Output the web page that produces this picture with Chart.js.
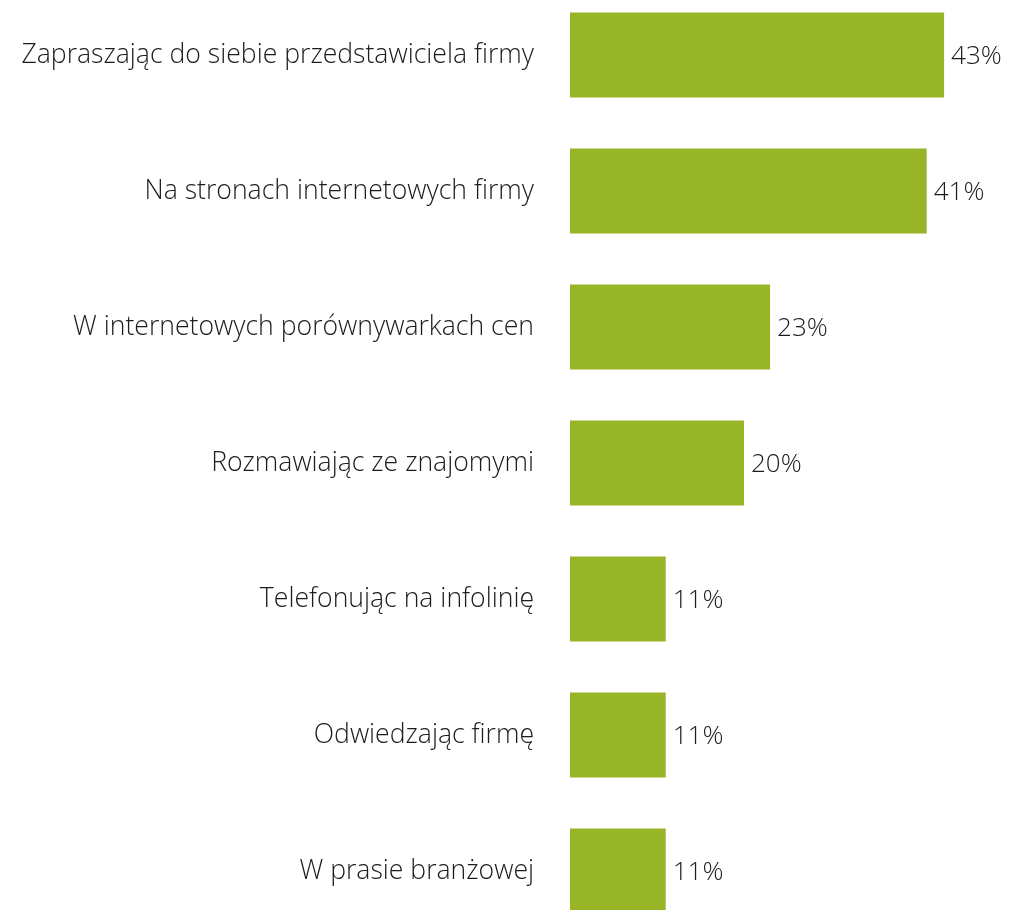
<!DOCTYPE html>
<html>
<head>
<meta charset="utf-8">
<script src="https://cdn.jsdelivr.net/npm/chart.js@4"></script>
<style>
  html, body { margin: 0; padding: 0; background: #fff; overflow: hidden; }
  #wrap { position: absolute; left: 0; top: -13px; width: 1009px; height: 952px; }
</style>
</head>
<body>
<div id="wrap"><canvas id="wykres"></canvas></div>
<script>
// dane
var kategorie = [
    "Zapraszając do siebie przedstawiciela firmy",
    "Na stronach internetowych firmy",
    "W internetowych porównywarkach cen",
    "Rozmawiając ze znajomymi",
    "Telefonując na infolinię",
    "Odwiedzając firmę",
    "W prasie branżowej"
];
var wartosci = [43, 41, 23, 20, 11, 11, 11];

var zielony = "#97b526";
var kolorTekstu = "#1c1c1c";

// etykiety z procentami przy koncu slupka
var etykietyWartosci = {
    id: 'etykietyWartosci',
    afterDatasetsDraw: function(chart) {
        var ctx = chart.ctx;
        var meta = chart.getDatasetMeta(0);
        ctx.save();
        ctx.font = '300 26px "Open Sans"';
        ctx.fillStyle = kolorTekstu;
        ctx.textAlign = 'left';
        ctx.textBaseline = 'middle';
        meta.data.forEach(function(bar, i) {
            ctx.fillText(wartosci[i] + '%', bar.x + 7, bar.y + 2);
        });
        ctx.restore();
    }
};

var ctx = document.getElementById('wykres').getContext('2d');
var chart = new Chart(ctx, {
    type: 'bar',
    data: {
        labels: kategorie,
        datasets: [{
            data: wartosci,
            backgroundColor: zielony,
            borderWidth: 0,
            barPercentage: 0.625,
            categoryPercentage: 1
        }]
    },
    options: {
        indexAxis: 'y',
        responsive: true,
        maintainAspectRatio: false,
        animation: false,
        layout: { padding: { left: 0, right: 4, top: 0, bottom: 0 } },
        plugins: {
            legend: { display: false },
            tooltip: { enabled: false }
        },
        scales: {
            x: {
                display: false,
                min: 0,
                max: 50
            },
            y: {
                border: { display: false },
                grid: { display: false, drawTicks: false },
                ticks: {
                    color: kolorTekstu,
                    padding: 36,
                    font: { family: 'Open Sans', size: 26.6, weight: '300' }
                },
                afterFit: function(scale) {
                    scale.width = 570;
                    // bez dodatkowego odstepu u gory i u dolu
                    scale.paddingTop = 0;
                    scale.paddingBottom = 0;
                }
            }
        }
    },
    plugins: [etykietyWartosci]
});
</script>
</body>
</html>
